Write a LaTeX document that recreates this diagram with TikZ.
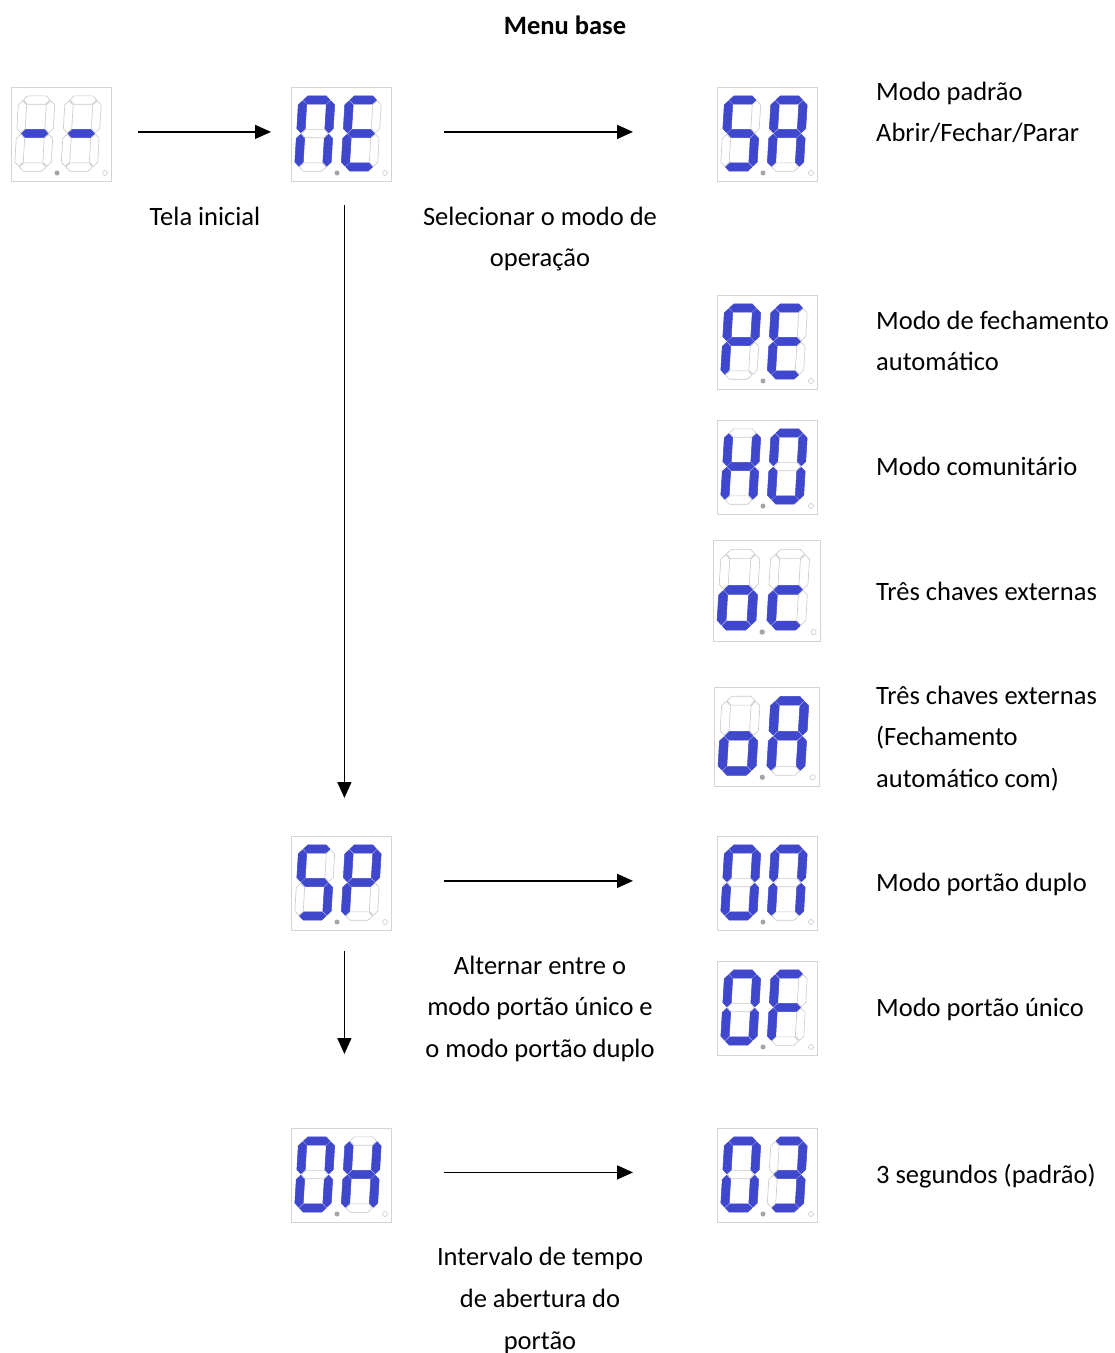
\documentclass[tikz,border=0pt]{standalone}
\usepackage{fontspec}
\setmainfont{Carlito}
\usetikzlibrary{arrows.meta}
\definecolor{segblue}{RGB}{63,72,204}
\definecolor{seggray}{RGB}{200,200,200}
\definecolor{boxgray}{RGB}{212,212,212}
\definecolor{dotgray}{RGB}{165,165,165}
\newcommand\lblfont{\fontsize{26.5}{41.7}\selectfont}
\tikzset{
  seg1/.style={fill=segblue, draw=segblue, line width=0.5pt},
  seg0/.style={fill=white, draw=seggray, line width=0.6pt},
  dispbox/.style={draw=boxgray, line width=0.8pt, fill=white, inner sep=0pt, anchor=north west},
  arr/.style={line width=1.5pt, -{Triangle[length=16pt,width=14pt]}},
  lbl/.style={font=\lblfont, inner sep=0pt, align=left, anchor=base west},
  clbl/.style={font=\lblfont, inner sep=0pt, align=center, anchor=base},
}
% horizontal segment: #1 state, #2 centre y
\newcommand\hseg[2]{\path[seg#1] (4.7,#2) -- (8.9,#2-4.2) -- (27.1,#2-4.2) -- (31.3,#2) -- (27.1,#2+4.2) -- (8.9,#2+4.2) -- cycle;}
% vertical segment: #1 state, #2 centre x, #3 top, #4 bottom
\newcommand\vseg[4]{\path[seg#1] (#2,#3+0.7) -- (#2+4.2,#3+4.9) -- (#2+4.2,#4-4.9) -- (#2,#4-0.7) -- (#2-4.2,#4-4.9) -- (#2-4.2,#3+4.9) -- cycle;}
% digit: #1 x offset, #2..#8 segments a b c d e f g
\newcommand\sdigit[8]{%
  \begin{scope}[shift={(#1,9)}, xslant=0.06]
    \hseg{#2}{4}
    \vseg{#3}{32}{4}{37.5}
    \vseg{#4}{32}{37.5}{71}
    \hseg{#5}{71}
    \vseg{#6}{4}{37.5}{71}
    \vseg{#7}{4}{4}{37.5}
    \hseg{#8}{37.5}
  \end{scope}}
% display: #1 name, #2 x, #3 y, #4 scale, #5 digit 1, #6 digit 2
\newcommand\sevdisp[6]{%
  \node[dispbox, minimum width={#4*100}, minimum height={#4*94}] (#1) at (#2,#3) {};
  \begin{scope}[shift={(#1.north west)}, scale=#4]
    \sdigit{8}#5
    \sdigit{54.5}#6
    \fill[dotgray] (46,86) circle (2.5);
    \draw[seggray, fill=white, line width=0.6pt] (94,86) circle (2.5);
  \end{scope}}
\begin{document}
\begin{tikzpicture}[x=1pt,y=-1pt]
\useasboundingbox[fill=white] (0,0) rectangle (1115,1353);

\node[font=\lblfont\bfseries, inner sep=0pt, anchor=base] (title) at (565,34) {Menu base};

\sevdisp{d1}{11}{87}{1}{0000001}{0000001}
\sevdisp{d2}{291}{87}{1}{1110110}{1001111}
\sevdisp{d3}{717}{87}{1}{1011011}{1110111}
\sevdisp{d4}{717}{295}{1}{1100111}{1001111}
\sevdisp{d5}{717}{420}{1}{0110111}{1111110}
\sevdisp{d6}{713}{540}{1.07}{0011101}{0001101}
\sevdisp{d7}{714}{687}{1.05}{0011101}{1110111}
\sevdisp{d8}{291}{836}{1}{1011011}{1100111}
\sevdisp{d9}{717}{836}{1}{1111110}{1110110}
\sevdisp{d10}{717}{961}{1}{1111110}{1000111}
\sevdisp{d11}{291}{1128}{1}{1111110}{0110111}
\sevdisp{d12}{717}{1128}{1}{1111110}{1111001}

% arrows
\draw[arr] ([xshift=26pt,yshift=2.5pt]d1.east) -- ([xshift=-20pt,yshift=2.5pt]d2.west);
\draw[arr] ([xshift=52pt,yshift=2.5pt]d2.east) -- ([xshift=-84pt,yshift=2.5pt]d3.west);
\draw[arr] ([xshift=3pt,yshift=-23pt]d2.south) -- ([xshift=3pt,yshift=38pt]d8.north);
\draw[arr] ([xshift=52pt,yshift=2.5pt]d8.east) -- ([xshift=-84pt,yshift=2.5pt]d9.west);
\draw[arr] ([xshift=3pt,yshift=-20pt]d8.south) -- ([xshift=3pt,yshift=74pt]d11.north);
\draw[arr] ([xshift=52pt,yshift=3pt]d11.east) -- ([xshift=-84pt,yshift=3pt]d12.west);

% labels (base anchor of a multi-line node is its last line)
\node[clbl] (l1) at (205,225) {Tela inicial};
\node[clbl] (l2) at (540,266.7) {Selecionar o modo de\\operação};
\node[lbl] (l3) at (876,141.7) {Modo padrão\\Abrir/Fechar/Parar};
\node[lbl] (l4) at (876,370.7) {Modo de fechamento\\automático};
\node[lbl] (l5) at (876,475) {Modo comunitário};
\node[lbl] (l6) at (876,600) {Três chaves externas};
\node[lbl] (l7) at (876,787.4) {Três chaves externas\\(Fechamento\\automático com)};
\node[lbl] (l8) at (876,891) {Modo portão duplo};
\node[lbl] (l9) at (876,1016) {Modo portão único};
\node[clbl] (l10) at (540,1057.4) {Alternar entre o\\modo portão único e\\o modo portão duplo};
\node[lbl] (l11) at (876,1183) {3 segundos (padrão)};
\node[clbl] (l12) at (540,1349) {Intervalo de tempo\\de abertura do\\portão};
\end{tikzpicture}
\end{document}
